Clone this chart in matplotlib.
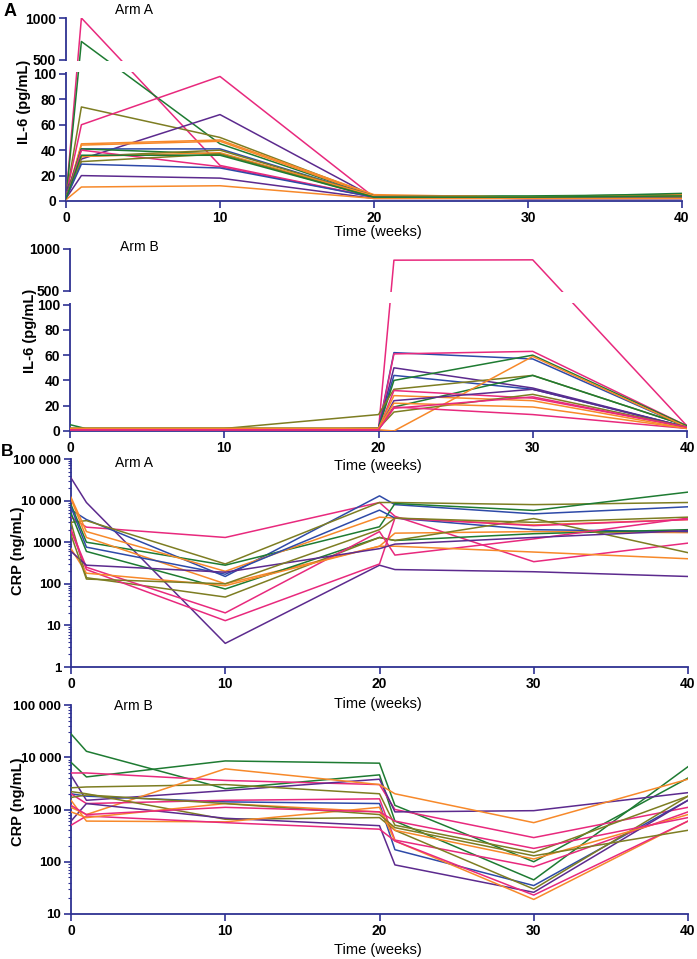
import numpy as np
import matplotlib
matplotlib.use("Agg")
import matplotlib.pyplot as plt
from matplotlib.patches import Rectangle
from matplotlib.ticker import LogLocator, NullLocator

plt.rcParams['font.family'] = ['Liberation Sans', 'DejaVu Sans']

# ---- colours ----
PINK = "#e8297d"
GREEN = "#1e7b32"
OLIVE = "#7d7d22"
BLUE = "#2e4aa8"
PURPLE = "#5c2a8e"
ORANGE = "#f7892a"
NAVY = "#2e3192"

# ---- Panel A, Arm A: IL-6 (pg/mL) ----
il6_a_weeks = [0, 1, 10, 20, 30, 40]
il6_a_values = [
    [2, 1000, 28, 3, 3, 3],
    [2, 720, 45, 4, 4, 5],
    [3, 74, 50, 4, 3, 4],
    [4, 60, 98, 3, 2, 3],
    [8, 33, 68, 3, 2, 2],
    [2, 45, 48, 5, 3, 5],
    [2, 44, 47, 4, 3, 4],
    [3, 41, 41, 4, 3, 3],
    [3, 41, 37, 4, 3, 6],
    [2, 35, 40, 4, 3, 4],
    [2, 40, 27, 3, 2, 2],
    [2, 35, 38, 4, 3, 4],
    [2, 31, 37, 3, 3, 3],
    [2, 29, 26, 3, 2, 2],
    [2, 20, 18, 2, 2, 2],
    [1, 11, 12, 2, 2, 2],
    [2, 36, 36, 3, 3, 4],
]
il6_a_colors = [PINK, GREEN, OLIVE, PINK, PURPLE, ORANGE, ORANGE, BLUE,
                GREEN, OLIVE, PINK, ORANGE, OLIVE, BLUE, PURPLE, ORANGE, GREEN]

# ---- Panel A, Arm B: IL-6 (pg/mL) ----
il6_b_weeks = [0, 1, 10, 20, 21, 30, 40]
il6_b_values = [
    [1, 1, 1, 1, 866, 870, 4],
    [1, 1, 1, 2, 62, 57, 3],
    [1, 1, 1, 1, 61, 63, 4],
    [1, 1, 1, 2, 50, 34, 3],
    [1, 1, 1, 2, 44, 33, 3],
    [5, 2, 2, 2, 40, 60, 4],
    [2, 2, 2, 13, 33, 44, 4],
    [2, 2, 2, 2, 19, 44, 4],
    [1, 1, 1, 1, 32, 26, 3],
    [2, 2, 2, 2, 28, 24, 2],
    [1, 1, 1, 1, 0, 59, 3],
    [1, 1, 1, 1, 24, 33, 3],
    [2, 2, 2, 2, 15, 29, 3],
    [1, 1, 1, 1, 19, 13, 2],
    [2, 2, 2, 2, 22, 19, 2],
    [1, 1, 1, 1, 18, 27, 3],
]
il6_b_colors = [PINK, BLUE, PINK, PURPLE, BLUE, GREEN, OLIVE, GREEN,
                PINK, ORANGE, ORANGE, PURPLE, OLIVE, PINK, ORANGE, PINK]

# ---- Panel B, Arm A: CRP (ng/mL) ----
crp_a_weeks = [0, 1, 10, 20, 21, 30, 40]
crp_a_values = [
    [35000, 9000, 3.7, 280, 220, 195, 150],
    [4000, 2300, 1300, 9000, 4200, 340, 950],
    [6000, 3500, 150, 13000, 8000, 4800, 7100],
    [3000, 3300, 300, 9000, 9000, 8000, 9000],
    [8000, 1000, 280, 2350, 8500, 5800, 16000],
    [12000, 1800, 200, 4000, 3800, 2600, 3500],
    [11000, 1300, 100, 800, 1650, 1800, 1700],
    [7000, 760, 170, 5900, 3800, 2000, 1800],
    [5000, 600, 75, 1300, 1100, 1600, 2000],
    [3000, 140, 48, 1300, 1100, 3700, 560],
    [2000, 250, 20, 1800, 490, 1200, 3800],
    [1900, 220, 13, 300, 3800, 2500, 3500],
    [700, 180, 90, 800, 800, 580, 400],
    [600, 280, 190, 700, 900, 1300, 1900],
    [1500, 130, 100, 2000, 3800, 3000, 4000],
]
crp_a_colors = [PURPLE, PINK, BLUE, OLIVE, GREEN, ORANGE, ORANGE, BLUE,
                GREEN, OLIVE, PINK, PINK, ORANGE, PURPLE, OLIVE]

# ---- Panel B, Arm B: CRP (ng/mL) ----
crp_b_weeks = [0, 1, 10, 20, 21, 30, 40]
crp_b_values = [
    [28000, 13000, 2500, 4600, 600, 45, 6600],
    [8000, 4200, 8500, 7700, 1200, 100, 4000],
    [5000, 5000, 3600, 3000, 1000, 290, 1100],
    [4500, 1500, 2300, 3800, 900, 950, 2100],
    [2600, 2700, 3000, 2000, 500, 150, 1800],
    [1100, 800, 6000, 3000, 2000, 560, 3800],
    [2000, 1800, 1400, 1300, 170, 35, 1500],
    [2000, 1300, 1500, 1600, 260, 80, 900],
    [2200, 2000, 650, 700, 400, 30, 1800],
    [600, 1300, 680, 490, 87, 26, 1500],
    [1500, 600, 580, 1100, 250, 19, 600],
    [500, 750, 560, 420, 250, 23, 600],
    [900, 700, 1300, 900, 400, 113, 800],
    [1700, 1900, 1300, 800, 450, 130, 400],
    [1200, 800, 1100, 900, 600, 180, 700],
]
crp_b_colors = [GREEN, GREEN, PINK, PURPLE, OLIVE, ORANGE, BLUE, PINK,
                OLIVE, PURPLE, ORANGE, PINK, ORANGE, OLIVE, PINK]

x_ticks = [0, 10, 20, 30, 40]
il6_ticks = [0, 20, 40, 60, 80, 100, 500, 1000]
crp_a_ticks = [1, 10, 100, 1000, 10000, 100000]
crp_a_labels = ["1", "10", "100", "1000", "10 000", "100 000"]
crp_b_ticks = [10, 100, 1000, 10000, 100000]
crp_b_labels = ["10", "100", "1000", "10 000", "100 000"]

W, H = 697, 959


def box(left, top, right, bottom):
    return [left / W, 1 - bottom / H, (right - left) / W, (bottom - top) / H]


def fig_xy(x, y):
    return x / W, 1 - y / H


# broken axis: 0-100 linear, 100-500 squeezed, 500-1000 compressed
def _fwd(y):
    y = np.asarray(y, dtype=float)
    return np.where(y <= 100, y,
                    np.where(y <= 500, 100 + (y - 100) * 11 / 400,
                             111 + (y - 500) * 33 / 500))


def _inv(u):
    u = np.asarray(u, dtype=float)
    return np.where(u <= 100, u,
                    np.where(u <= 111, 100 + (u - 100) * 400 / 11,
                             500 + (u - 111) * 500 / 33))


def style_axes(ax, labelsize=10):
    for side in ['top', 'right']:
        ax.spines[side].set_visible(False)
    for side in ['left', 'bottom']:
        ax.spines[side].set_color(NAVY)
        ax.spines[side].set_linewidth(1.3)
    ax.tick_params(axis='both', which='major', direction='out', length=5,
                   width=1.2, color=NAVY, labelsize=labelsize, pad=2)
    ax.tick_params(axis='y', which='minor', direction='out', length=2.5,
                   width=0.8, color=NAVY)
    ax.set_xlim(0, 40)
    ax.set_xticks(x_ticks)
    ax.set_xticklabels([str(t) for t in x_ticks], fontweight='bold', fontsize=10)


def draw_lines(ax, weeks, values, colors):
    for row, col in zip(values, colors):
        ax.plot(weeks, row, color=col, linewidth=1.1, zorder=3)


def il6_panel(ax, weeks, values, colors):
    draw_lines(ax, weeks, values, colors)
    style_axes(ax)
    ax.set_yscale('function', functions=(_fwd, _inv))
    ax.set_ylim(0, 1000)
    ax.set_yticks(il6_ticks)
    ax.set_yticklabels([str(t) for t in il6_ticks], fontweight='bold')
    ax.yaxis.set_minor_locator(NullLocator())
    gap = Rectangle((-0.006, 150), 1.01, 310, transform=ax.get_yaxis_transform(),
                    facecolor='white', edgecolor='none', zorder=6, clip_on=False)
    ax.add_patch(gap)


def crp_panel(ax, weeks, values, colors, ticks, labels, bottom):
    draw_lines(ax, weeks, values, colors)
    style_axes(ax, labelsize=9.5)
    ax.set_yscale('log')
    ax.set_ylim(bottom, 100000)
    ax.set_yticks(ticks)
    ax.set_yticklabels(labels, fontweight='bold')
    ax.yaxis.set_minor_locator(LogLocator(base=10, subs=np.arange(2, 10)))
    ax.yaxis.set_minor_formatter(plt.NullFormatter())


fig = plt.figure(figsize=(W / 100, H / 100), dpi=100)

ax1 = fig.add_axes(box(66, 18, 682, 201))
il6_panel(ax1, il6_a_weeks, il6_a_values, il6_a_colors)

ax2 = fig.add_axes(box(70, 249, 687, 431))
il6_panel(ax2, il6_b_weeks, il6_b_values, il6_b_colors)

ax3 = fig.add_axes(box(71, 459, 688, 667))
crp_panel(ax3, crp_a_weeks, crp_a_values, crp_a_colors, crp_a_ticks, crp_a_labels, 1)

ax4 = fig.add_axes(box(71, 705, 688, 914))
crp_panel(ax4, crp_b_weeks, crp_b_values, crp_b_colors, crp_b_ticks, crp_b_labels, 10)

# axis titles and labels
xlabel_y = [232, 466, 704, 950]
for y in xlabel_y:
    fig.text(*fig_xy(378, y), "Time (weeks)", ha='center', va='center', fontsize=10.5)

ylabels = [("IL-6 (pg/mL)", 24, 102), ("IL-6 (pg/mL)", 30, 331),
           ("CRP (ng/mL)", 18, 551), ("CRP (ng/mL)", 18, 802)]
for text, x, y in ylabels:
    fig.text(*fig_xy(x, y), text, rotation=90, ha='center', va='center',
             fontsize=10.5, fontweight='bold')

arm_labels = [("Arm A", 115, 10), ("Arm B", 120, 247), ("Arm A", 115, 463), ("Arm B", 114, 706)]
for text, x, y in arm_labels:
    fig.text(*fig_xy(x, y), text, ha='left', va='center', fontsize=10)

fig.text(*fig_xy(4, 11), "A", ha='left', va='center', fontsize=13, fontweight='bold')
fig.text(*fig_xy(1, 451), "B", ha='left', va='center', fontsize=12.5, fontweight='bold')

fig.savefig("out.png", dpi=100)
